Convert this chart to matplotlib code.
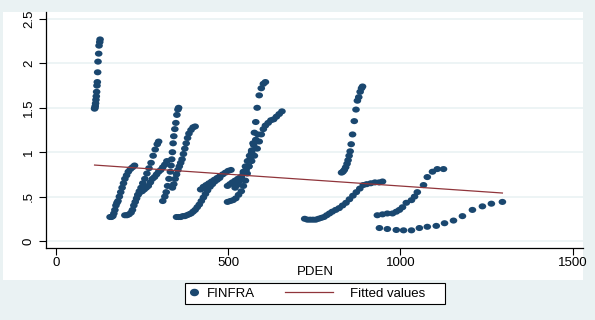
import numpy as np
import matplotlib.pyplot as plt
from matplotlib.patches import Rectangle
from matplotlib.path import Path
from matplotlib.lines import Line2D

plt.rcParams['font.family'] = ['Liberation Sans', 'DejaVu Sans']

# FINFRA vs PDEN, one list pair per panel unit
s1_x = [112, 113, 114, 115, 116, 117, 118, 119, 120, 121, 122, 124, 125, 127, 128]
s1_y = [1.49, 1.50, 1.52, 1.55, 1.59, 1.63, 1.68, 1.75, 1.79, 1.90, 2.02, 2.11, 2.20, 2.24, 2.27]

s2_x = [157, 161, 165, 168, 171, 174, 177, 180, 184, 188, 192, 196, 200, 205, 210, 216, 222, 228]
s2_y = [0.27, 0.27, 0.28, 0.31, 0.35, 0.40, 0.43, 0.45, 0.50, 0.55, 0.60, 0.65, 0.70, 0.74, 0.78, 0.81, 0.83, 0.85]

s3_x = [200, 206, 212, 218, 222, 226, 230, 234, 238, 242, 247, 252, 258, 264, 270, 276, 282, 288, 294, 298]
s3_y = [0.29, 0.29, 0.30, 0.32, 0.35, 0.40, 0.44, 0.48, 0.52, 0.56, 0.60, 0.65, 0.70, 0.76, 0.82, 0.88, 0.96, 1.03, 1.09, 1.12]

s4_x = [238, 244, 250, 256, 262, 268, 274, 280, 286, 292, 298, 304, 310, 316, 322]
s4_y = [0.52, 0.55, 0.56, 0.58, 0.60, 0.62, 0.66, 0.70, 0.72, 0.75, 0.78, 0.80, 0.83, 0.86, 0.90]

s5_x = [310, 316, 320, 324, 328, 332, 334, 336, 338, 340, 342, 345, 348, 351, 354, 356]
s5_y = [0.45, 0.50, 0.55, 0.62, 0.70, 0.78, 0.85, 0.92, 1.00, 1.10, 1.18, 1.26, 1.33, 1.42, 1.48, 1.50]

s6_x = [338, 342, 346, 350, 354, 358, 362, 366, 370, 374, 378, 382, 386, 392, 398, 404]
s6_y = [0.60, 0.64, 0.70, 0.75, 0.80, 0.84, 0.88, 0.92, 0.98, 1.04, 1.10, 1.16, 1.21, 1.25, 1.28, 1.29]

s7_x = [350, 356, 362, 368, 374, 380, 386, 392, 398, 404, 410, 416, 422, 428, 434, 440, 447, 454, 461, 468, 475]
s7_y = [0.27, 0.27, 0.27, 0.28, 0.28, 0.29, 0.30, 0.31, 0.33, 0.35, 0.38, 0.41, 0.45, 0.49, 0.53, 0.57, 0.61, 0.64, 0.67, 0.69, 0.71]

s8_x = [420, 428, 436, 444, 452, 460, 468, 476, 484, 492, 500, 508]
s8_y = [0.58, 0.61, 0.63, 0.65, 0.67, 0.69, 0.71, 0.73, 0.75, 0.77, 0.79, 0.80]

s9_x = [498, 506, 514, 522, 530, 538, 544, 550, 555, 560, 564, 568, 572, 576, 580, 584, 590, 596, 602, 608]
s9_y = [0.44, 0.45, 0.46, 0.48, 0.52, 0.56, 0.62, 0.68, 0.76, 0.84, 0.92, 1.00, 1.10, 1.22, 1.34, 1.50, 1.64, 1.72, 1.77, 1.79]

s10_x = [498, 505, 512, 520, 528, 536, 544, 552, 560, 568, 576, 584, 590, 596, 602, 608, 616, 624, 632, 640, 648, 656]
s10_y = [0.62, 0.64, 0.66, 0.68, 0.70, 0.72, 0.76, 0.80, 0.84, 0.90, 0.96, 1.04, 1.12, 1.20, 1.26, 1.30, 1.33, 1.36, 1.37, 1.40, 1.43, 1.46]

s11_x = [520, 526, 532, 538, 544, 550, 556, 562, 568, 574, 580, 586]
s11_y = [0.60, 0.63, 0.67, 0.72, 0.78, 0.84, 0.90, 0.96, 1.02, 1.08, 1.14, 1.20]

s12_x = [722, 730, 738, 746, 754, 762, 770, 778, 786, 794, 802, 812, 822, 832, 842, 852, 862, 872, 882, 892, 902, 914, 926, 938, 948]
s12_y = [0.25, 0.24, 0.24, 0.24, 0.24, 0.25, 0.26, 0.27, 0.29, 0.31, 0.33, 0.35, 0.37, 0.40, 0.43, 0.47, 0.51, 0.55, 0.59, 0.63, 0.64, 0.65, 0.66, 0.66, 0.67]

s13_x = [829, 833, 837, 841, 845, 848, 851, 854, 857, 861, 866, 871, 875, 879, 883, 887, 890]
s13_y = [0.77, 0.78, 0.80, 0.83, 0.87, 0.91, 0.96, 1.01, 1.09, 1.20, 1.35, 1.48, 1.58, 1.62, 1.68, 1.72, 1.74]

s14_x = [933, 948, 962, 977, 988, 997, 1006, 1017, 1032, 1041, 1049, 1067, 1078, 1093, 1107, 1125]
s14_y = [0.29, 0.30, 0.31, 0.31, 0.33, 0.35, 0.38, 0.43, 0.46, 0.50, 0.55, 0.63, 0.72, 0.78, 0.81, 0.81]

s15_x = [939, 962, 988, 1009, 1032, 1055, 1078, 1104, 1128, 1154, 1180, 1209, 1238, 1264, 1296]
s15_y = [0.146, 0.135, 0.124, 0.12, 0.12, 0.146, 0.16, 0.17, 0.20, 0.23, 0.28, 0.35, 0.39, 0.42, 0.44]

xs = [s1_x, s2_x, s3_x, s4_x, s5_x, s6_x, s7_x, s8_x, s9_x, s10_x, s11_x, s12_x, s13_x, s14_x, s15_x]
ys = [s1_y, s2_y, s3_y, s4_y, s5_y, s6_y, s7_y, s8_y, s9_y, s10_y, s11_y, s12_y, s13_y, s14_y, s15_y]
pden = np.concatenate([np.array(v, dtype=float) for v in xs])
finfra = np.concatenate([np.array(v, dtype=float) for v in ys])

# regression estimates for the fitted line (FINFRA = a + b*PDEN)
fit_intercept = 0.885
fit_slope = -0.000266
xfit = np.array([pden.min(), pden.max()])
yfit = fit_intercept + fit_slope * xfit

W, H = 595, 320
bg = '#EAF2F3'
navy = '#1A476F'
maroon = '#90353B'
fs = 9.5

# slightly flattened dot
dot = Path(Path.unit_circle().vertices * [1.0, 0.8], Path.unit_circle().codes)

fig = plt.figure(figsize=(W / 100, H / 100), dpi=100, facecolor=bg)

# white inner region behind the plot and its labels
fig.patches.append(Rectangle((3 / W, 1 - 280 / H), 580 / W, 268 / H,
                             transform=fig.transFigure, facecolor='white',
                             edgecolor='none', zorder=-1))

ax = fig.add_axes([46 / W, 1 - 248 / H, 537 / W, 236 / H])
ax.set_zorder(2)
ax.set_facecolor('white')
ax.set_xlim(-29, 1530)
ax.set_ylim(-0.079, 2.579)

ax.set_yticks([0, 0.5, 1, 1.5, 2, 2.5])
ax.set_yticklabels(['0', '.5', '1', '1.5', '2', '2.5'], rotation=90, va='center')
ax.set_xticks([0, 500, 1000, 1500])
ax.tick_params(labelsize=fs, length=5, width=0.8, color='black')
ax.tick_params(axis='x', pad=1.5)
ax.tick_params(axis='y', pad=3)
ax.grid(axis='y', color=bg, linewidth=1.2)
ax.set_axisbelow(True)
for side in ['top', 'right']:
    ax.spines[side].set_visible(False)
for side in ['left', 'bottom']:
    ax.spines[side].set_linewidth(0.9)

ax.scatter(pden, finfra, s=30, marker=dot, color=navy, edgecolors='none', zorder=3)
ax.plot(xfit, yfit, color=maroon, linewidth=0.9, zorder=4)

ax.set_xlabel('PDEN', fontsize=fs, va='center')
ax.xaxis.set_label_coords((315 - 46) / 537, (248 - 272) / 236)

# legend: framed box with two entries
fig.patches.append(Rectangle((185 / W, 1 - 304 / H), 260 / W, 21 / H,
                             transform=fig.transFigure, facecolor='white',
                             edgecolor='black', linewidth=0.8, zorder=1))
yc = 1 - 293.5 / H
h1 = Line2D([], [], linestyle='none', marker=dot, markersize=5.5, color=navy)
h2 = Line2D([], [], color=maroon, linewidth=0.9)
leg1 = fig.legend([h1], ['FINFRA'], loc='center left', bbox_to_anchor=(187 / W, yc),
                  frameon=False, fontsize=fs, handlelength=1.0, handletextpad=0.5,
                  borderpad=0, borderaxespad=0)
leg2 = fig.legend([h2], ['Fitted values'], loc='center left', bbox_to_anchor=(285 / W, yc),
                  frameon=False, fontsize=fs, handlelength=3.6, handletextpad=1.3,
                  borderpad=0, borderaxespad=0)
leg1.set_zorder(3)
leg2.set_zorder(3)

fig.savefig('out.png', dpi=100, facecolor=bg)
